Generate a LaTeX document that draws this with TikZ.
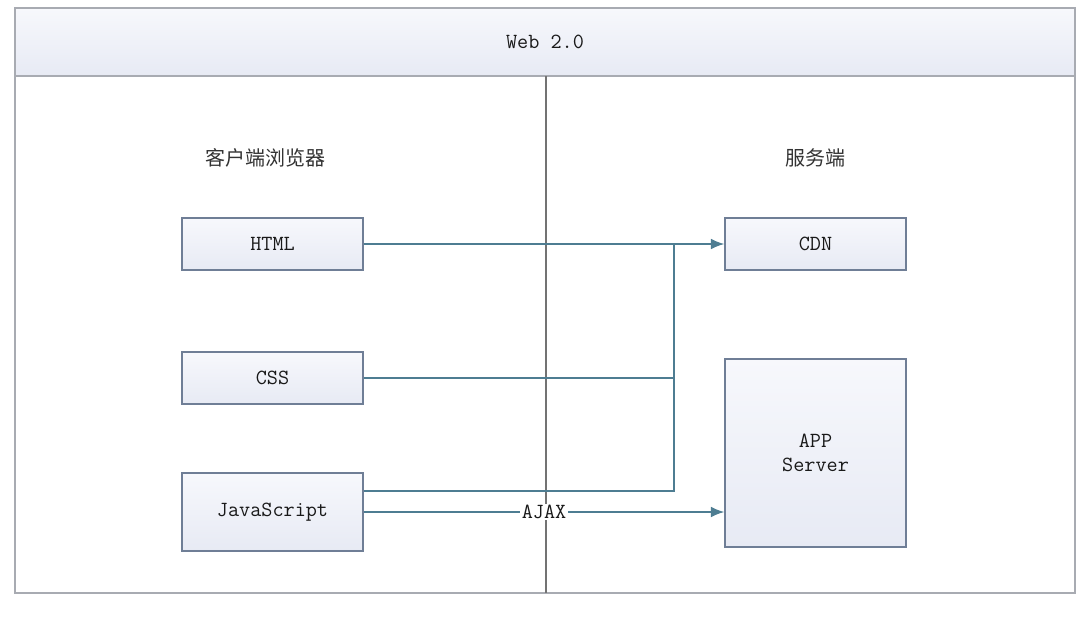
\documentclass[tikz,border=0pt]{standalone}
\usepackage{fontspec}
\newfontfamily\cjk{Noto Sans CJK SC}
\usetikzlibrary{arrows.meta}
\definecolor{frameC}{HTML}{A8ABB2}
\definecolor{boxC}{HTML}{6F7E96}
\definecolor{lineC}{HTML}{4E7D92}
\definecolor{fillTop}{HTML}{F7F8FC}
\definecolor{fillBot}{HTML}{E7EAF4}
\tikzset{
  px/.style={x=0.75pt,y=-0.75pt},
  mono/.style={font=\fontsize{16.2}{18.5}\selectfont\ttfamily,text=black!90},
  box/.style={draw=boxC,line width=1.1pt,top color=fillTop,bottom color=fillBot,inner sep=0pt,
    mono,align=center},
  conn/.style={draw=lineC,line width=1.1pt},
  arr/.style={conn,-{Latex[length=10pt,width=8pt]}},
  lbl/.style={font=\fontsize{15}{18}\selectfont\cjk,text=black!80},
}
\begin{document}
\begin{tikzpicture}[px]
\useasboundingbox[fill=white] (0,0) rectangle (1077,625);
% frame
\path[top color=fillTop,bottom color=fillBot] (15,8) rectangle (1075,76);
\draw[frameC,line width=1.3pt] (15,8) rectangle (1075,593);
\draw[frameC,line width=1.3pt] (15,76) -- (1075,76);
\draw[black!55,line width=0.8pt] (546,76) -- (546,593);
\node[mono] (title) at (545,42) {Web 2.0};
\node[lbl] (client) at (265,158) {客户端浏览器};
\node[lbl] (server) at (815,158) {服务端};
% boxes
\node[box,minimum width=181*0.75pt,minimum height=52*0.75pt] (html) at (272.5,244) {HTML};
\node[box,minimum width=181*0.75pt,minimum height=52*0.75pt] (css) at (272.5,378) {CSS};
\node[box,minimum width=181*0.75pt,minimum height=78*0.75pt] (js) at (272.5,512) {JavaScript};
\node[box,minimum width=181*0.75pt,minimum height=52*0.75pt] (cdn) at (815.5,244) {CDN};
\node[box,minimum width=181*0.75pt,minimum height=188*0.75pt] (app) at (815.5,453) {APP\\Server};
\coordinate (j) at (674,244);
% connectors
\draw[arr] (html.east) -- (cdn.west);
\draw[conn] (css.east) -- (674,378) -- (j);
\draw[conn] (js.east |- 0,491) -- (674,491) -- (674,378);
\draw[arr] (js.east) -- node[fill=white,inner sep=1pt,mono] (ajax) {AJAX} (js.east -| app.west);
\end{tikzpicture}
\end{document}
